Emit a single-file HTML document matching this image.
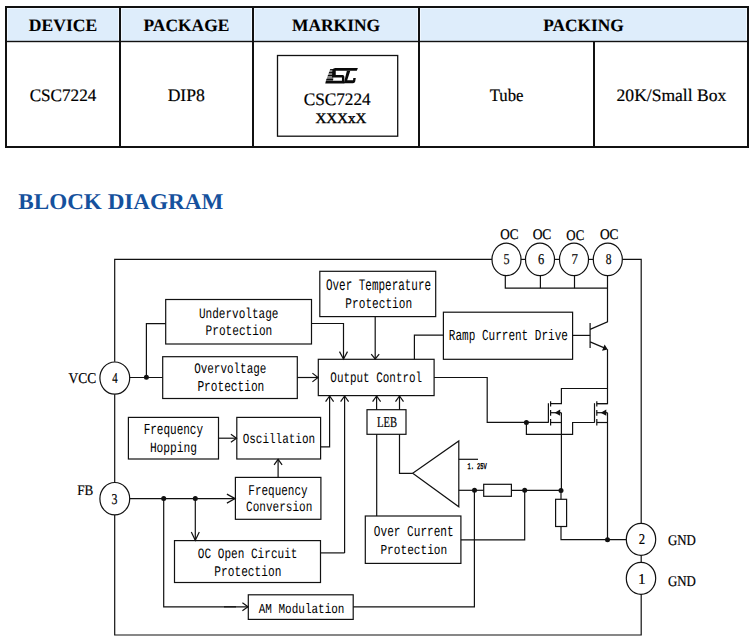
<!DOCTYPE html>
<html><head><meta charset="utf-8"><style>
html,body{margin:0;padding:0;background:#fff;text-rendering:geometricPrecision;}
body{width:752px;height:640px;overflow:hidden;position:relative;}
svg{position:absolute;left:0;top:0;}
.d path,.d rect,.d ellipse{fill:none;stroke:#111;stroke-width:1.2;}
.d .f{fill:#111;stroke:none;}
text.m{font-family:"Liberation Mono",monospace;fill:#000;stroke:#000;stroke-width:0px;}
text.s{font-family:"Liberation Serif",serif;fill:#000;stroke:#000;stroke-width:0.2px;}
text.h{font-family:"Liberation Serif",serif;font-weight:bold;fill:#000;stroke:#000;stroke-width:0.1px;}
text.t{font-family:"Liberation Serif",serif;font-weight:bold;fill:#15519d;}
</style></head><body>
<svg width="752" height="640" viewBox="0 0 752 640">
<rect x="7" y="8" width="740" height="33" fill="#deedfb"/>
<g fill="#eff7ff">
<rect x="7" y="8" width="740" height="1"/>
<rect x="7" y="8" width="1" height="33"/>
<rect x="118" y="8" width="1" height="33"/><rect x="121" y="8" width="1" height="33"/>
<rect x="251" y="8" width="1" height="33"/><rect x="254" y="8" width="1" height="33"/>
<rect x="417" y="8" width="1" height="33"/><rect x="420" y="8" width="1" height="33"/>
<rect x="746" y="8" width="1" height="33"/>
</g>
<g fill="#111">
<rect x="5" y="6" width="744" height="2"/>
<rect x="5" y="146" width="744" height="2"/>
<rect x="5" y="6" width="2" height="142"/>
<rect x="747" y="6" width="2" height="142"/>
<rect x="5" y="40.8" width="744" height="1.4"/>
<rect x="119" y="6" width="2" height="142"/>
<rect x="252" y="6" width="2" height="142"/>
<rect x="418" y="6" width="2" height="142"/>
<rect x="593" y="41" width="2" height="107"/>
</g>
<rect x="277.5" y="55.5" width="120.2" height="80.7" fill="none" stroke="#111" stroke-width="1.3"/>
<defs><clipPath id="lc"><path d="M330.25,69.1 L334,69.1 L333,80.9 L325.85,80.9 Z"/></clipPath></defs>
<g fill="#0a0a0a">
<path d="M330.25,69.1 L334,69.1 L333,80.9 L325.85,80.9 Z" fill="#858585"/>
<g clip-path="url(#lc)">
<rect x="325" y="69.1" width="10" height="0.8"/>
<rect x="325" y="72.1" width="10" height="1.0"/>
<rect x="325" y="75.0" width="10" height="1.0"/>
<rect x="325" y="78.8" width="10" height="1.3"/>
</g>
<path d="M335.1,68.1 L357.9,68.1 L356.8,70.7 L335.75,70.7 L335.75,75.0 L342.6,75.0 Q344.35,75.0 344.35,76.8 L344.35,83.6 L325.27,83.6 L325.9,80.84 L341.95,80.84 L341.95,77.4 L332.0,77.4 L332.3,70.6 Q332.5,68.1 335.1,68.1 Z"/>
<path d="M346.9,70.7 L350.3,70.7 L347.2,80.2 L353.06,80.2 L353.3,78.1 L355.8,78.1 L355.2,81.5 Q354.8,83.25 353,83.25 L343.8,83.25 Z"/>
</g>
<g class="d">
<path d="M622.3,259.4 L641.2,259.4 L641.2,523.2"/>
<path d="M641.2,555.4 L641.2,562.2"/>
<path d="M641.2,594.4 L641.2,635.0 L114.7,635.0 L114.7,514.9"/>
<path d="M114.7,482.5 L114.7,394.2"/>
<path d="M114.7,361.8 L114.7,259.4 L492.0,259.4"/>
<path d="M520.9,259.4 L525.1,259.4"/>
<path d="M554.9,259.4 L559.1,259.4"/>
<path d="M588.9,259.4 L593.2,259.4"/>
<ellipse cx="506.5" cy="259.4" rx="14.5" ry="16.2"/>
<ellipse cx="540.0" cy="259.4" rx="14.5" ry="16.2"/>
<ellipse cx="574.0" cy="259.4" rx="14.5" ry="16.2"/>
<ellipse cx="607.8" cy="259.4" rx="14.5" ry="16.2"/>
<ellipse cx="114.8" cy="378.1" rx="14.9" ry="16.1"/>
<ellipse cx="114.8" cy="498.7" rx="14.9" ry="16.2"/>
<ellipse cx="641.0" cy="539.3" rx="14.7" ry="16.0"/>
<ellipse cx="641.0" cy="578.3" rx="14.7" ry="16.0"/>
<path d="M505.3,275.6 L505.3,288.2 L607.5,288.2"/>
<path d="M540.4,275.6 L540.4,288.2"/>
<path d="M574.5,275.6 L574.5,288.2"/>
<path d="M607.5,275.6 L607.5,321.9 L590.1,329.4"/>
<path d="M590.1,323.1 L590.1,347.9" stroke-width="2"/>
<path d="M572.5,335.4 L590.1,335.4"/>
<path d="M590.1,341.9 L605.5,348.4"/>
<path class="f" d="M607.8,349.6 L602.0,350.8 L604.6,344.6 Z"/>
<path d="M607.5,349.2 L607.5,403.6 L597.0,403.6"/>
<rect x="165.7" y="299.5" width="145.80" height="44.50"/>
<rect x="162.7" y="356.7" width="134.60" height="41.80"/>
<rect x="319.8" y="271.3" width="115.90" height="45.30"/>
<rect x="318.3" y="359.3" width="115.80" height="36.30"/>
<rect x="443.4" y="312.2" width="129.20" height="47.10"/>
<rect x="128.4" y="417.4" width="90.10" height="41.60"/>
<rect x="236.8" y="417.4" width="83.80" height="41.60"/>
<rect x="367.0" y="409.7" width="39.00" height="24.60"/>
<rect x="235.4" y="477.4" width="85.50" height="41.90"/>
<rect x="174.5" y="540.6" width="146.00" height="41.90"/>
<rect x="365.3" y="516.0" width="95.60" height="47.40"/>
<rect x="248.3" y="594.8" width="104.90" height="24.60"/>
<path d="M129.7,377.5 L162.7,377.5"/>
<circle class="f" cx="146.4" cy="377.3" r="2.5"/>
<path d="M146.4,377.3 L146.4,323.6 L165.7,323.6"/>
<path d="M311.5,323.5 L343.5,323.5 L343.5,359.0"/>
<path d="M339.5,351.6 L343.5,359.0 L347.5,351.6"/>
<path d="M375.2,316.6 L375.2,359.0"/>
<path d="M371.2,354.2 L375.2,359.0 L379.2,354.2"/>
<path d="M297.3,377.5 L318.0,377.5"/>
<path d="M312.4,373.1 L318.0,377.5 L312.4,381.9"/>
<path d="M443.4,335.2 L414.4,335.2 L414.4,359.3"/>
<path d="M434.1,377.5 L487.2,377.5 L487.2,422.4 L548.4,422.4"/>
<circle class="f" cx="526.4" cy="422.4" r="2.5"/>
<path d="M526.4,422.4 L526.4,434.3 L572.6,434.3 L572.6,422.5 L594.5,422.5"/>
<path d="M548.4,403.2 L548.4,422.7" stroke-width="1.4"/>
<path d="M550.6,401.3 L550.6,406.4" stroke-width="1.4"/>
<path d="M550.6,410.1 L550.6,415.7" stroke-width="1.4"/>
<path d="M550.6,419.0 L550.6,425.5" stroke-width="1.4"/>
<path d="M550.6,403.6 L561.4,403.6 L561.4,388.5 L607.5,388.5"/>
<path d="M550.6,412.7 L561.4,412.7"/>
<path class="f" d="M554.6,412.7 L560.2,409.6 L560.2,415.8 Z"/>
<path d="M550.6,422.5 L561.4,422.5"/>
<path d="M561.4,412.7 L561.4,490.4"/>
<path d="M594.5,403.2 L594.5,422.7" stroke-width="1.4"/>
<path d="M596.8,401.3 L596.8,406.4" stroke-width="1.4"/>
<path d="M596.8,410.1 L596.8,415.7" stroke-width="1.4"/>
<path d="M596.8,419.0 L596.8,425.5" stroke-width="1.4"/>
<path d="M596.8,403.6 L607.5,403.6"/>
<path d="M596.8,412.7 L607.5,412.7"/>
<path class="f" d="M600.7,412.7 L606.3,409.6 L606.3,415.8 Z"/>
<path d="M596.8,422.5 L607.5,422.5"/>
<path d="M607.5,412.7 L607.5,539.7"/>
<circle class="f" cx="607.5" cy="539.7" r="2.5"/>
<path d="M561.0,526.5 L561.0,539.7 L626.3,539.7"/>
<rect x="555.6" y="499.3" width="11.00" height="27.20"/>
<path d="M561.0,490.4 L561.0,499.3"/>
<circle class="f" cx="561.0" cy="490.4" r="2.5"/>
<path d="M458.8,440.9 L458.8,506.8 L412.7,473.3 Z"/>
<path d="M399.5,434.3 L399.5,473.3 L412.7,473.3"/>
<path d="M458.8,459.3 L478.0,459.3"/>
<path d="M458.8,490.3 L483.7,490.3"/>
<circle class="f" cx="474.5" cy="490.3" r="2.5"/>
<rect x="483.7" y="484.3" width="27.70" height="12.00"/>
<path d="M511.4,490.3 L561.0,490.4"/>
<circle class="f" cx="524.7" cy="490.3" r="2.5"/>
<path d="M524.7,490.3 L524.7,539.8 L460.9,539.8"/>
<path d="M474.4,490.3 L474.4,606.8 L353.2,606.8"/>
<path d="M376.7,434.3 L376.7,516.0"/>
<path d="M376.6,409.7 L376.6,396.0"/>
<path d="M372.6,401.6 L376.6,396.0 L380.6,401.6"/>
<path d="M399.5,409.7 L399.5,396.0"/>
<path d="M395.5,401.6 L399.5,396.0 L403.5,401.6"/>
<path d="M344.6,552.9 L344.6,396.0"/>
<path d="M340.6,401.6 L344.6,396.0 L348.6,401.6"/>
<path d="M320.5,552.9 L344.6,552.9"/>
<path d="M320.6,446.8 L329.6,446.8 L329.6,396.0"/>
<path d="M325.6,401.6 L329.6,396.0 L333.6,401.6"/>
<path d="M218.5,438.2 L236.5,438.2"/>
<path d="M230.9,434.2 L236.5,438.2 L230.9,442.2"/>
<path d="M278.1,477.4 L278.1,459.3"/>
<path d="M274.1,464.90000000000003 L278.1,459.3 L282.1,464.90000000000003"/>
<path d="M129.7,498.6 L235.1,498.6"/>
<path d="M226.9,494.1 L235.1,498.6 L226.9,503.1"/>
<circle class="f" cx="163.7" cy="498.6" r="2.5"/>
<circle class="f" cx="195.3" cy="498.6" r="2.5"/>
<path d="M195.3,498.6 L195.3,540.3"/>
<path d="M191.3,532.0999999999999 L195.3,540.3 L199.3,532.0999999999999"/>
<path d="M163.7,498.6 L163.7,606.8 L248.0,606.8"/>
<path d="M242.4,602.8 L248.0,606.8 L242.4,610.8"/>
<path d="M224,606.8 L236,606.8" stroke-width="1.8"/>
</g>
<text class="m" x="198.89" y="318.10" font-size="14.42" textLength="79.61" lengthAdjust="spacingAndGlyphs" xml:space="preserve">Undervoltage</text>
<text class="m" x="205.54" y="334.80" font-size="14.57" textLength="66.74" lengthAdjust="spacingAndGlyphs" xml:space="preserve">Protection</text>
<text class="m" x="194.15" y="372.90" font-size="14.57" textLength="72.24" lengthAdjust="spacingAndGlyphs" xml:space="preserve">Overvoltage</text>
<text class="m" x="197.42" y="391.20" font-size="15.18" textLength="66.87" lengthAdjust="spacingAndGlyphs" xml:space="preserve">Protection</text>
<text class="m" x="325.95" y="290.00" font-size="16.11" textLength="105.15" lengthAdjust="spacingAndGlyphs" xml:space="preserve">Over Temperature</text>
<text class="m" x="345.36" y="307.90" font-size="14.73" textLength="66.77" lengthAdjust="spacingAndGlyphs" xml:space="preserve">Protection</text>
<text class="m" x="330.37" y="382.10" font-size="14.42" textLength="91.73" lengthAdjust="spacingAndGlyphs" xml:space="preserve">Output Control</text>
<text class="m" x="448.79" y="340.00" font-size="15.33" textLength="119.19" lengthAdjust="spacingAndGlyphs" xml:space="preserve">Ramp Current Drive</text>
<text class="m" x="143.65" y="433.70" font-size="15.36" textLength="59.44" lengthAdjust="spacingAndGlyphs" xml:space="preserve">Frequency</text>
<text class="m" x="149.89" y="451.70" font-size="14.12" textLength="47.22" lengthAdjust="spacingAndGlyphs" xml:space="preserve">Hopping</text>
<text class="m" x="242.64" y="442.70" font-size="13.97" textLength="72.52" lengthAdjust="spacingAndGlyphs" xml:space="preserve">Oscillation</text>
<text class="m" x="248.35" y="494.70" font-size="14.86" textLength="59.28" lengthAdjust="spacingAndGlyphs" xml:space="preserve">Frequency</text>
<text class="m" x="246.08" y="511.40" font-size="14.12" textLength="66.27" lengthAdjust="spacingAndGlyphs" xml:space="preserve">Conversion</text>
<text class="m" x="197.86" y="558.10" font-size="14.27" textLength="99.59" lengthAdjust="spacingAndGlyphs" xml:space="preserve">OC Open Circuit</text>
<text class="m" x="214.36" y="575.90" font-size="14.73" textLength="66.97" lengthAdjust="spacingAndGlyphs" xml:space="preserve">Protection</text>
<text class="m" x="373.83" y="536.10" font-size="15.13" textLength="79.84" lengthAdjust="spacingAndGlyphs" xml:space="preserve">Over Current</text>
<text class="m" x="380.42" y="553.80" font-size="13.66" textLength="66.83" lengthAdjust="spacingAndGlyphs" xml:space="preserve">Protection</text>
<text class="m" x="258.73" y="612.80" font-size="13.66" textLength="85.73" lengthAdjust="spacingAndGlyphs" xml:space="preserve">AM Modulation</text>
<text class="m" x="467.41" y="469.40" font-size="8.67" textLength="19.42" lengthAdjust="spacingAndGlyphs" style="stroke-width:0.45px" xml:space="preserve">1. 25V</text>
<text class="s" x="377.10" y="426.70" font-size="14.81" textLength="20.01" lengthAdjust="spacingAndGlyphs" xml:space="preserve">LEB</text>
<text class="s" x="68.48" y="383.00" font-size="14.95" textLength="27.71" lengthAdjust="spacingAndGlyphs" xml:space="preserve">VCC</text>
<text class="s" x="77.32" y="495.00" font-size="14.66" textLength="16.08" lengthAdjust="spacingAndGlyphs" xml:space="preserve">FB</text>
<text class="s" x="668.05" y="544.80" font-size="14.73" textLength="27.82" lengthAdjust="spacingAndGlyphs" xml:space="preserve">GND</text>
<text class="s" x="668.05" y="585.80" font-size="14.73" textLength="27.83" lengthAdjust="spacingAndGlyphs" xml:space="preserve">GND</text>
<text class="s" x="500.25" y="238.70" font-size="14.60" textLength="18.25" lengthAdjust="spacingAndGlyphs" xml:space="preserve">OC</text>
<text class="s" x="532.63" y="238.80" font-size="14.60" textLength="18.73" lengthAdjust="spacingAndGlyphs" xml:space="preserve">OC</text>
<text class="s" x="566.33" y="240.30" font-size="14.60" textLength="17.91" lengthAdjust="spacingAndGlyphs" xml:space="preserve">OC</text>
<text class="s" x="599.89" y="238.80" font-size="14.60" textLength="18.61" lengthAdjust="spacingAndGlyphs" xml:space="preserve">OC</text>
<text class="s" x="503.55" y="264.10" font-size="15.06" textLength="6.10" lengthAdjust="spacingAndGlyphs" xml:space="preserve">5</text>
<text class="s" x="538.00" y="263.80" font-size="15.06" textLength="6.23" lengthAdjust="spacingAndGlyphs" xml:space="preserve">6</text>
<text class="s" x="571.62" y="263.80" font-size="15.06" textLength="6.43" lengthAdjust="spacingAndGlyphs" xml:space="preserve">7</text>
<text class="s" x="605.76" y="263.80" font-size="15.06" textLength="5.75" lengthAdjust="spacingAndGlyphs" xml:space="preserve">8</text>
<text class="s" x="112.30" y="383.10" font-size="15.06" textLength="5.43" lengthAdjust="spacingAndGlyphs" xml:space="preserve">4</text>
<text class="s" x="111.57" y="503.90" font-size="15.06" textLength="5.93" lengthAdjust="spacingAndGlyphs" xml:space="preserve">3</text>
<text class="s" x="638.77" y="544.10" font-size="15.06" textLength="6.36" lengthAdjust="spacingAndGlyphs" xml:space="preserve">2</text>
<text class="s" x="637.95" y="584.10" font-size="15.06" textLength="7.61" lengthAdjust="spacingAndGlyphs" xml:space="preserve">1</text>
<text class="h" x="28.87" y="30.90" font-size="17.37" textLength="68.29" lengthAdjust="spacingAndGlyphs" xml:space="preserve">DEVICE</text>
<text class="h" x="143.52" y="30.70" font-size="17.37" textLength="85.84" lengthAdjust="spacingAndGlyphs" xml:space="preserve">PACKAGE</text>
<text class="h" x="291.98" y="30.70" font-size="17.37" textLength="88.14" lengthAdjust="spacingAndGlyphs" xml:space="preserve">MARKING</text>
<text class="h" x="543.33" y="30.70" font-size="17.37" textLength="80.44" lengthAdjust="spacingAndGlyphs" xml:space="preserve">PACKING</text>
<text class="s" x="29.64" y="100.60" font-size="17.53" textLength="66.69" lengthAdjust="spacingAndGlyphs" xml:space="preserve">CSC7224</text>
<text class="s" x="167.65" y="100.70" font-size="17.53" textLength="37.19" lengthAdjust="spacingAndGlyphs" xml:space="preserve">DIP8</text>
<text class="s" x="489.64" y="100.50" font-size="17.53" textLength="33.82" lengthAdjust="spacingAndGlyphs" xml:space="preserve">Tube</text>
<text class="s" x="616.60" y="100.80" font-size="17.53" textLength="109.66" lengthAdjust="spacingAndGlyphs" xml:space="preserve">20K/Small Box</text>
<text class="s" x="303.68" y="104.50" font-size="17.53" textLength="67.05" lengthAdjust="spacingAndGlyphs" xml:space="preserve">CSC7224</text>
<text class="s" x="315.45" y="123.00" font-size="14.66" textLength="50.80" lengthAdjust="spacingAndGlyphs" style="stroke-width:0.4px" xml:space="preserve">XXXxX</text>
<text class="t" x="18.28" y="208.90" font-size="22.50" textLength="205.08" lengthAdjust="spacingAndGlyphs" xml:space="preserve">BLOCK DIAGRAM</text>
</svg>
</body></html>
